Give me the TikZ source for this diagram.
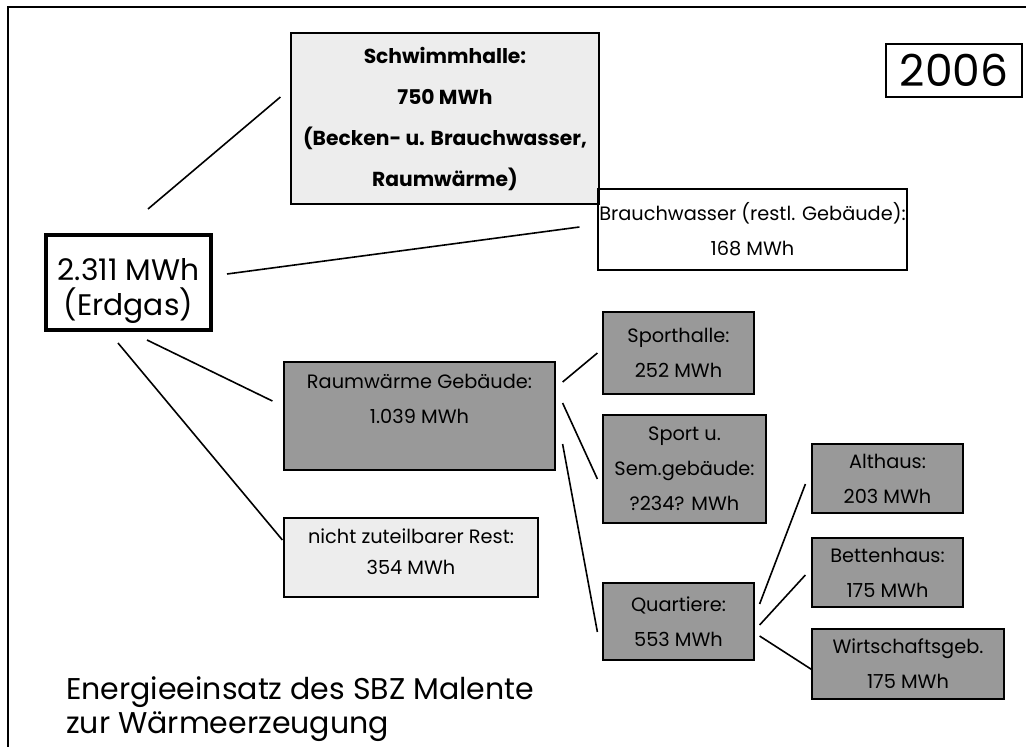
\documentclass[tikz,border=0pt]{standalone}
\usepackage{fontspec}
\setmainfont{Poppins}
\begin{document}
\begin{tikzpicture}[x=0.75pt,y=-0.75pt,
    box/.style={draw, line width=0.9pt, inner sep=0pt, align=center,
                font=\fontsize{14.5}{26.25}\selectfont},
    lightbox/.style={box, fill=black!7},
    darkbox/.style={box, fill=black!40},
    link/.style={line width=1.2pt}]
  \useasboundingbox (0,0) rectangle (1026,747);
  \draw[line width=2.2pt] (8,747) -- (8,7) -- (1026,7);

  \node[lightbox, font=\fontsize{15.2}{30.75}\selectfont\bfseries,
        minimum width=231pt, minimum height=128.25pt] (schwimm) at (445,118.5)
       {Schwimmhalle:\\750 MWh\\(Becken- u. Brauchwasser,\\Raumwärme)};
  \node[draw, line width=0.9pt, inner sep=0pt, font=\fontsize{33}{34}\selectfont,
        minimum width=102pt, minimum height=39.75pt] (jahr) at (954,70.5) {2006};
  \node[box, minimum width=231.75pt, minimum height=60.75pt] (brauch) at (752.5,229.5)
       {Brauchwasser (restl. Gebäude):\\168 MWh};
  \node[box, line width=3pt, font=\fontsize{22.3}{26.25}\selectfont,
        minimum width=123.75pt, minimum height=71.25pt] (erdgas) at (128.5,282.5)
       {\rule{0pt}{29pt}2.311 MWh\\(Erdgas)};
  \node[darkbox, minimum width=203.25pt, minimum height=81pt] (raum) at (419.5,416)
       {Raumwärme Gebäude:\\1.039 MWh\\\mbox{}};
  \node[lightbox, font=\fontsize{14.5}{23.25}\selectfont,
        minimum width=190.5pt, minimum height=59.25pt] (rest) at (411,557.5)
       {nicht zuteilbarer Rest:\\354 MWh\\[-14pt]\mbox{}};
  \node[darkbox, minimum width=113.25pt, minimum height=61.5pt] (sporthalle) at (678.5,353)
       {Sporthalle:\\252 MWh};
  \node[darkbox, minimum width=122.25pt, minimum height=81pt] (sportsem) at (684.5,469)
       {Sport u.\\Sem.gebäude:\\?234? MWh};
  \node[darkbox, minimum width=113.25pt, minimum height=57.75pt] (quartiere) at (678.5,621.5)
       {Quartiere:\\553 MWh};
  \node[darkbox, minimum width=113.25pt, minimum height=51.75pt] (althaus) at (887.5,478.5)
       {Althaus:\\203 MWh};
  \node[darkbox, minimum width=113.25pt, minimum height=51.75pt] (betten) at (887.5,572.5)
       {Bettenhaus:\\175 MWh};
  \node[darkbox, minimum width=144pt, minimum height=52.5pt] (wirtschaft) at (908,664)
       {Wirtschaftsgeb.\\175 MWh};
  \node[anchor=west, align=left, inner sep=0pt, font=\fontsize{22.5}{25.5}\selectfont]
       (titel) at (66,709) {Energieeinsatz des SBZ Malente\\zur Wärmeerzeugung};

  % connector ends, placed off the boxes
  \coordinate (e1) at ([shift={(19.5,-24)}]erdgas.north);
  \coordinate (e2) at ([shift={(14,-8.5)}]erdgas.east);
  \coordinate (e3) at ([shift={(18.5,8)}]erdgas.south);
  \coordinate (e4) at ([shift={(-10.5,11)}]erdgas.south);
  \coordinate (s1) at ([shift={(-10,-21.5)}]schwimm.west);
  \coordinate (b1) at ([shift={(-18,-2.5)}]brauch.west);
  \coordinate (r1) at ([shift={(-11,-15)}]raum.west);
  \coordinate (n1) at ([shift={(-1,-17.5)}]rest.west);
  \coordinate (r2) at ([shift={(7,-34)}]raum.east);
  \coordinate (r3) at ([shift={(7,-13)}]raum.east);
  \coordinate (r4) at ([shift={(7,28)}]raum.east);
  \coordinate (h1) at ([shift={(-5,0)}]sporthalle.west);
  \coordinate (h2) at ([shift={(-5,10)}]sportsem.west);
  \coordinate (q1) at ([shift={(-5,10.5)}]quartiere.west);
  \coordinate (q2) at ([shift={(5,-17.5)}]quartiere.east);
  \coordinate (q3) at ([shift={(5,3.5)}]quartiere.east);
  \coordinate (q4) at ([shift={(5,14.5)}]quartiere.east);
  \coordinate (a1) at ([shift={(-6,5.5)}]althaus.west);
  \coordinate (a2) at ([shift={(-6,2.5)}]betten.west);
  \coordinate (a3) at ([shift={(1,6)}]wirtschaft.west);

  \foreach \from/\to in {e1/s1, e2/b1, e3/r1, e4/n1, r2/h1, r3/h2, r4/q1,
                         q2/a1, q3/a2, q4/a3}
    \draw[link] (\from) -- (\to);
\end{tikzpicture}
\end{document}
